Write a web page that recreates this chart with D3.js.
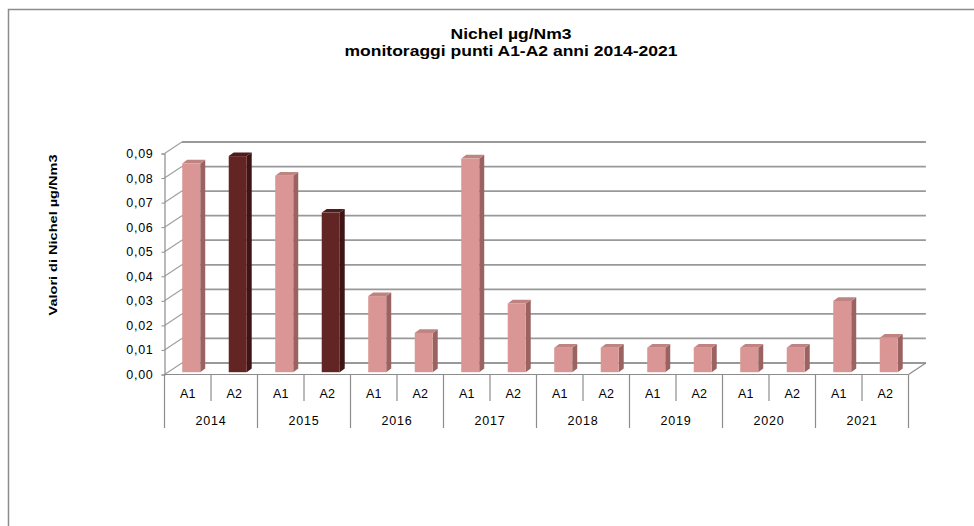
<!DOCTYPE html>
<html><head><meta charset="utf-8">
<script src="https://cdn.jsdelivr.net/npm/d3@7/dist/d3.min.js"></script>
<style>
html,body{margin:0;padding:0;background:#fff;}
svg{display:block;font-family:"Liberation Sans",Arial,sans-serif;}
</style></head>
<body>
<svg id="c" width="974" height="526"></svg>
<script>
const years = ["2014","2015","2016","2017","2018","2019","2020","2021"];
const points = ["A1","A2"];
const valuesA1 = [0.085,0.080,0.031,0.087,0.010,0.010,0.010,0.029];
const valuesA2 = [0.088,0.065,0.016,0.028,0.010,0.010,0.010,0.014];
const darkBars = ["2014-A2","2015-A2"];
const yTicks = [0,0.01,0.02,0.03,0.04,0.05,0.06,0.07,0.08,0.09];
const yTickLabels = ["0,00","0,01","0,02","0,03","0,04","0,05","0,06","0,07","0,08","0,09"];
const titleLines = ["Nichel µg/Nm3","monitoraggi punti A1-A2 anni 2014-2021"];
const yTitle = "Valori di Nichel µg/Nm3";

const svg = d3.select("#c");
// outer chart border
svg.append("rect").attr("x",8.5).attr("y",9.5).attr("width",1000).attr("height",600)
  .attr("fill","#fff").attr("stroke","#8c8c8c").attr("stroke-width",1.5);

const data = [];
years.forEach((y,i)=>{
  data.push({year:y,pt:points[0],v:valuesA1[i]});
  data.push({year:y,pt:points[1],v:valuesA2[i]});
});
const cats = data.map(d=>d.year+"-"+d.pt);

const X0 = 164.5, X1 = 908.5;
const x = d3.scaleBand().domain(cats).range([X0,X1]).padding(0);
const y = d3.scaleLinear().domain([0,0.09]).range([374.5,153.5]);
const DX = 17.4, DY = -11.5;

const grid = svg.append("g");
yTicks.forEach(t=>{
  grid.append("line").attr("x1",X0+DX).attr("x2",X1+DX)
    .attr("y1",y(t)+DY).attr("y2",y(t)+DY)
    .attr("stroke","#999").attr("stroke-width",1.8);
  grid.append("line").attr("x1",X0).attr("x2",X0+DX)
    .attr("y1",y(t)).attr("y2",y(t)+DY)
    .attr("stroke","#a0a0a0").attr("stroke-width",1.2);
});
grid.append("line").attr("x1",X0).attr("x2",X1).attr("y1",y(0)).attr("y2",y(0))
  .attr("stroke","#8c8c8c").attr("stroke-width",1.2);
grid.append("line").attr("x1",X1).attr("x2",X1+DX).attr("y1",y(0)).attr("y2",y(0)+DY)
  .attr("stroke","#8c8c8c").attr("stroke-width",1.2);

const yAxis = d3.axisLeft(y).tickValues(yTicks).tickFormat((d,i)=>yTickLabels[i]).tickSize(3).tickPadding(8);
const ya = svg.append("g").attr("transform",`translate(${X0},0)`).call(yAxis);
ya.select(".domain").attr("stroke","#8c8c8c").attr("stroke-width",1.2);
ya.selectAll(".tick line").attr("stroke","#8c8c8c");
ya.selectAll("text").attr("font-size",12.5).attr("letter-spacing",0.7).attr("fill","#000")
  .attr("font-family","Liberation Sans, Arial, sans-serif");

const f = 0.2, BW = 18, BDX = 5, BDY = -3.7;
const pal = {
  light:{front:"#d99694",side:"#9a6361",top:"#bf8381"},
  dark:{front:"#632523",side:"#3e1514",top:"#4f1c1a"}
};
const bars = svg.append("g");
data.forEach(d=>{
  const key = d.year+"-"+d.pt;
  const c = darkBars.includes(key)?pal.dark:pal.light;
  const cx = x(key)+x.bandwidth()/2 + DX*f;
  const xl = cx-BW/2, xr = cx+BW/2;
  const yb = y(0)+DY*f, yt = y(d.v)+DY*f;
  const g = bars.append("g");
  g.append("path").attr("d",`M${xr},${yb}L${xr+BDX},${yb+BDY}L${xr+BDX},${yt+BDY}L${xr},${yt}Z`).attr("fill",c.side);
  g.append("path").attr("d",`M${xl},${yt}L${xl+BDX},${yt+BDY}L${xr+BDX},${yt+BDY}L${xr},${yt}Z`).attr("fill",c.top);
  g.append("rect").attr("x",xl).attr("y",yt).attr("width",BW).attr("height",yb-yt).attr("fill",c.front);
});

const cax = svg.append("g").attr("stroke","#8c8c8c").attr("stroke-width",1.2);
cats.forEach((k,i)=>{
  const xx = x(k);
  cax.append("line").attr("x1",xx).attr("x2",xx).attr("y1",y(0)).attr("y2",i%2===0?428:401);
});
cax.append("line").attr("x1",X1).attr("x2",X1).attr("y1",y(0)).attr("y2",428);
const lab = svg.append("g").attr("font-size",12.5).attr("fill","#000").attr("text-anchor","middle");
data.forEach(d=>{
  const key=d.year+"-"+d.pt;
  lab.append("text").attr("x",x(key)+x.bandwidth()/2).attr("y",397.5).text(d.pt);
});
years.forEach(yr=>{
  const xa = x(yr+"-A1"), xb = x(yr+"-A2")+x.bandwidth();
  lab.append("text").attr("x",(xa+xb)/2).attr("y",424.5).attr("letter-spacing",0.8).text(yr);
});

const tt = svg.append("g").attr("font-weight","bold").attr("font-size",14.5).attr("text-anchor","middle").attr("fill","#000");
tt.append("text").attr("x",511).attr("y",38.5).attr("textLength",121).attr("lengthAdjust","spacingAndGlyphs").text(titleLines[0]);
tt.append("text").attr("x",511).attr("y",55.5).attr("textLength",333).attr("lengthAdjust","spacingAndGlyphs").text(titleLines[1]);
svg.append("text").attr("transform","translate(57,235) rotate(-90)")
  .attr("text-anchor","middle").attr("font-weight","bold").attr("font-size",11.5)
  .attr("textLength",161).attr("lengthAdjust","spacingAndGlyphs").text(yTitle);
</script>
</body></html>
